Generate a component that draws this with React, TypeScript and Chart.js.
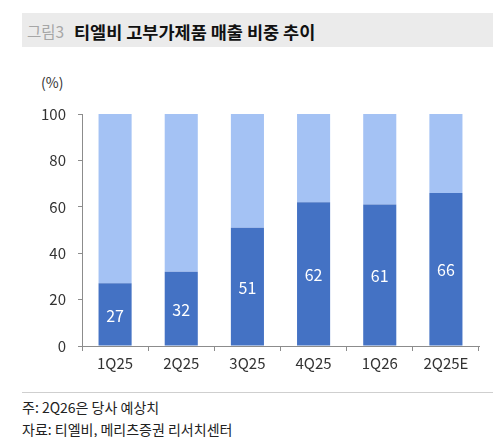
import React, { useEffect, useRef } from "react";
import { Chart, registerables } from "chart.js";

Chart.register(...registerables);

const categories = ["1Q25", "2Q25", "3Q25", "4Q25", "1Q26", "2Q25E"];
const highValueShare = [27, 32, 51, 62, 61, 66];
const otherShare = [73, 68, 49, 38, 39, 34];
const yTicks = [0, 20, 40, 60, 80, 100];

const FONT = "'Noto Sans CJK KR', 'Noto Sans', sans-serif";
const DARK = "#4472C4";
const LIGHT = "#A4C2F4";

const labelPlugin = {
  id: "segLabels",
  afterDatasetsDraw(chart: any) {
    const ctx = chart.ctx;
    const meta = chart.getDatasetMeta(0);
    ctx.save();
    ctx.fillStyle = "#ffffff";
    ctx.font = `16px ${FONT}`;
    ctx.textAlign = "center";
    ctx.textBaseline = "middle";
    meta.data.forEach((bar: any, i: number) => {
      const p = bar.getProps(["x", "y", "base"], true);
      ctx.fillText(String(highValueShare[i]), p.x, (p.y + p.base) / 2 + 1);
    });
    ctx.restore();
  },
};

export default function App() {
  const ref = useRef<HTMLCanvasElement>(null);

  useEffect(() => {
    document.body.style.margin = "0";
    const chart = new Chart(ref.current as HTMLCanvasElement, {
      type: "bar",
      data: {
        labels: categories,
        datasets: [
          {
            label: "고부가제품",
            data: highValueShare,
            backgroundColor: DARK,
            categoryPercentage: 1,
            barPercentage: 0.5,
          },
          {
            label: "기타",
            data: otherShare,
            backgroundColor: LIGHT,
            categoryPercentage: 1,
            barPercentage: 0.5,
          },
        ],
      },
      options: {
        animation: false,
        responsive: false,
        maintainAspectRatio: false,
        layout: { padding: { left: 0, right: 21, top: 0, bottom: 0 } },
        plugins: {
          legend: { display: false },
          tooltip: { enabled: false },
        },
        scales: {
          x: {
            stacked: true,
            border: { display: true, color: "#8c8c8c", width: 1 },
            grid: {
              display: true,
              offset: true,
              drawOnChartArea: false,
              drawTicks: true,
              tickLength: 5,
              color: "#8c8c8c",
            },
            ticks: {
              color: "#333333",
              font: { family: FONT, size: 15 },
              padding: 3,
            },
            afterFit(scale: any) {
              scale.height = 34;
            },
          },
          y: {
            stacked: true,
            min: 0,
            max: 100,
            afterBuildTicks(scale: any) {
              scale.ticks = yTicks.map((v) => ({ value: v }));
            },
            border: { display: true, color: "#8c8c8c", width: 1 },
            grid: {
              display: true,
              drawOnChartArea: false,
              drawTicks: true,
              tickLength: 4,
              color: "#8c8c8c",
            },
            ticks: {
              color: "#333333",
              font: { family: FONT, size: 15 },
              padding: 12,
            },
            afterFit(scale: any) {
              scale.width = 82;
            },
          },
        },
      },
      plugins: [labelPlugin],
    });
    return () => chart.destroy();
  }, []);

  return (
    <div
      style={{
        position: "relative",
        width: 500,
        height: 437,
        background: "#ffffff",
        fontFamily: FONT,
        overflow: "hidden",
      }}
    >
      <div
        style={{
          position: "absolute",
          left: 22,
          top: 13,
          width: 471,
          height: 34,
          background: "#EBEBEB",
        }}
      />
      <div
        style={{
          position: "absolute",
          left: 27,
          top: 13,
          height: 34,
          lineHeight: "36px",
          fontSize: 15.5,
          color: "#A6A6A6",
          whiteSpace: "nowrap",
        }}
      >
        그림3
      </div>
      <div
        style={{
          position: "absolute",
          left: 74,
          top: 13,
          height: 34,
          lineHeight: "37px",
          fontSize: 17.5,
          fontWeight: 700,
          color: "#111111",
          whiteSpace: "nowrap",
        }}
      >
        티엘비 고부가제품 매출 비중 추이
      </div>
      <div
        style={{
          position: "absolute",
          left: 41,
          top: 72,
          fontSize: 14,
          lineHeight: "20px",
          color: "#333333",
        }}
      >
        (%)
      </div>
      <canvas
        ref={ref}
        width={500}
        height={287}
        style={{ position: "absolute", left: 0, top: 93, width: 500, height: 287 }}
      />
      <div
        style={{
          position: "absolute",
          left: 22,
          top: 392,
          width: 471,
          height: 1,
          background: "#CFCFCF",
        }}
      />
      <div
        style={{
          position: "absolute",
          left: 22,
          top: 397,
          fontSize: 14,
          lineHeight: "20px",
          color: "#222222",
          whiteSpace: "nowrap",
        }}
      >
        주: 2Q26은 당사 예상치
      </div>
      <div
        style={{
          position: "absolute",
          left: 22,
          top: 419,
          fontSize: 14,
          lineHeight: "20px",
          color: "#222222",
          whiteSpace: "nowrap",
        }}
      >
        자료: 티엘비, 메리츠증권 리서치센터
      </div>
    </div>
  );
}
